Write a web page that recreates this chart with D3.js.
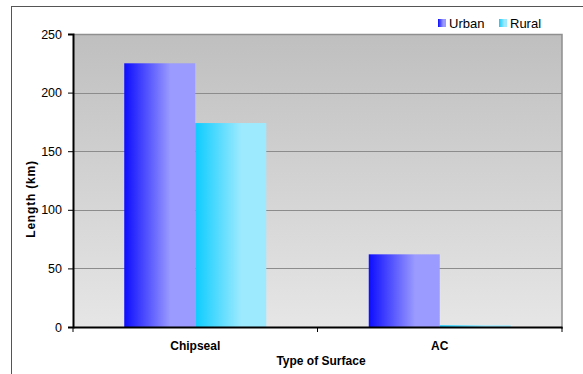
<!DOCTYPE html>
<html>
<head>
<meta charset="utf-8">
<script src="https://cdn.jsdelivr.net/npm/d3@7"></script>
<style>
  html, body { margin: 0; padding: 0; background: #fff; }
  svg { display: block; font-family: "Liberation Sans", Arial, sans-serif; }
</style>
</head>
<body>
<svg id="chart" width="583" height="374"></svg>
<script>
// Road length by surface type, urban vs rural
const categories = ["Chipseal", "AC"];
const seriesNames = ["Urban", "Rural"];
const urbanValues = [225, 62];
const ruralValues = [174, 1.5];
const yTicks = [0, 50, 100, 150, 200, 250];

const svg = d3.select("#chart");
const W = 583, H = 374;
const plot = { left: 73, top: 34, right: 562, bottom: 327 };

// outer frame
svg.append("rect").attr("x", 11.5).attr("y", 6.5)
  .attr("width", W).attr("height", H)
  .attr("fill", "#fff").attr("stroke", "#555").attr("stroke-width", 1);

const defs = svg.append("defs");
const bg = defs.append("linearGradient").attr("id", "bgGrad")
  .attr("x1", 0).attr("y1", 0).attr("x2", 0).attr("y2", 1);
bg.append("stop").attr("offset", "0%").attr("stop-color", "#bfbfbf");
bg.append("stop").attr("offset", "100%").attr("stop-color", "#e6e6e6");

const gradColors = {
  Urban: ["#0d0dff", "#9a9aff"],
  Rural: ["#0dccff", "#9deaff"]
};
seriesNames.forEach(s => {
  const g = defs.append("linearGradient").attr("id", "grad" + s)
    .attr("x1", 0).attr("y1", 0).attr("x2", 1).attr("y2", 0);
  g.append("stop").attr("offset", "0%").attr("stop-color", gradColors[s][0]);
  g.append("stop").attr("offset", "65%").attr("stop-color", gradColors[s][1]);
  g.append("stop").attr("offset", "100%").attr("stop-color", gradColors[s][1]);
});

const x0 = d3.scaleBand().domain(categories).range([plot.left, plot.right]).paddingInner(0).paddingOuter(0);
const groupW = 142;
const x1 = d3.scaleBand().domain(seriesNames).range([0, groupW]);
const y = d3.scaleLinear().domain([0, 250]).range([plot.bottom, plot.top]);

// plot background
svg.append("rect")
  .attr("x", plot.left).attr("y", plot.top)
  .attr("width", plot.right - plot.left).attr("height", plot.bottom - plot.top)
  .attr("fill", "url(#bgGrad)");
// plot border (top and right)
svg.append("path")
  .attr("d", `M${plot.left},${plot.top + 0.5}H${plot.right}V${plot.bottom + 2}`)
  .attr("fill", "none").attr("stroke", "#8f8f8f").attr("stroke-width", 1.5);

// gridlines
svg.append("g").selectAll("line").data(yTicks.filter(t => t > 0 && t < 250)).join("line")
  .attr("x1", plot.left).attr("x2", plot.right)
  .attr("y1", d => Math.round(y(d)) + 0.5).attr("y2", d => Math.round(y(d)) + 0.5)
  .attr("stroke", "#8c8c8c").attr("stroke-width", 1);

// bars
const rows = categories.map((c, i) => ({ cat: c, vals: [
  { s: "Urban", v: urbanValues[i] }, { s: "Rural", v: ruralValues[i] }
]}));
const groups = svg.append("g").selectAll("g").data(rows).join("g")
  .attr("transform", d => `translate(${x0(d.cat) + x0.bandwidth() / 2 - groupW / 2},0)`);
groups.selectAll("rect").data(d => d.vals).join("rect")
  .attr("x", d => x1(d.s)).attr("width", x1.bandwidth())
  .attr("y", d => y(d.v)).attr("height", d => y(0) - y(d.v))
  .attr("fill", d => `url(#grad${d.s})`);

// y axis
const yAxis = svg.append("g").attr("transform", `translate(${plot.left},0)`)
  .call(d3.axisLeft(y).tickValues(yTicks).tickSize(5).tickPadding(6));
yAxis.select(".domain").attr("stroke", "#000").attr("stroke-width", 2);
yAxis.selectAll(".tick line").attr("stroke", "#000");
yAxis.selectAll("text").attr("font-size", 12.5).attr("fill", "#000")
  .attr("font-family", "Liberation Sans, Arial, sans-serif");

// x axis
const xAxis = svg.append("g").attr("transform", `translate(0,${plot.bottom})`)
  .call(d3.axisBottom(x0).tickSize(0).tickPadding(14));
xAxis.select(".domain").attr("stroke", "#000").attr("stroke-width", 2);
xAxis.selectAll("text").attr("font-size", 12).attr("font-weight", "bold").attr("fill", "#000")
  .attr("font-family", "Liberation Sans, Arial, sans-serif");
// category separators
svg.append("g").selectAll("line").data([plot.left, x0("AC"), plot.right]).join("line")
  .attr("x1", d => d).attr("x2", d => d)
  .attr("y1", plot.bottom).attr("y2", plot.bottom + 5)
  .attr("stroke", "#000");

// axis titles
svg.append("text").attr("x", 321).attr("y", 365)
  .attr("text-anchor", "middle").attr("font-size", 12).attr("font-weight", "bold")
  .text("Type of Surface");
svg.append("text")
  .attr("transform", `translate(35,199) rotate(-90)`)
  .attr("text-anchor", "middle").attr("font-size", 12).attr("font-weight", "bold")
  .attr("letter-spacing", 0.8)
  .text("Length (km)");

// legend
const legendX = [438, 499];
const leg = svg.append("g").selectAll("g").data(seriesNames).join("g")
  .attr("transform", (d, i) => `translate(${legendX[i]},19)`);
leg.append("rect").attr("width", 8).attr("height", 8).attr("fill", d => `url(#grad${d})`);
leg.append("text").attr("x", 11).attr("y", 9).attr("font-size", 13).text(d => d);
</script>
</body>
</html>
